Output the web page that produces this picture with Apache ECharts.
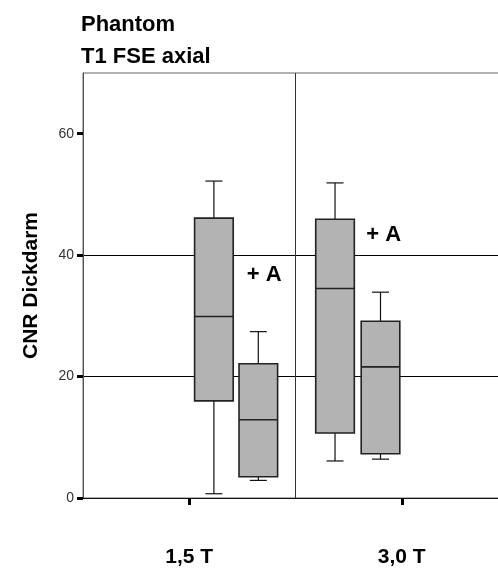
<!DOCTYPE html>
<html><head><meta charset="utf-8">
<script src="https://cdn.jsdelivr.net/npm/echarts@6/dist/echarts.min.js"></script>
<style>html,body{margin:0;padding:0;background:#fff}#c{width:498px;height:574px}</style>
</head><body><div id="c"></div>
<script>
// ---------- data ----------
const titleLines = ['Phantom', 'T1 FSE axial'];
const categories = ['1,5 T', '3,0 T'];
const yTickValues = [0, 20, 40, 60];
const yAxisName = 'CNR Dickdarm';
// box statistics: [lower whisker, Q1, median, Q3, upper whisker]
const box15T_first  = [0.7, 16.0, 29.9, 46.1, 52.2];
const box15T_second = [2.9, 3.5, 12.9, 22.1, 27.4];
const box30T_first  = [6.1, 10.7, 34.5, 45.9, 51.9];
const box30T_second = [6.4, 7.3, 21.6, 29.1, 33.9];
const annotationText = ['+ A', '+ A'];
const annotationValue = [36.7, 43.3];

// ---------- layout (not data) ----------
const FONT = '"Liberation Sans", Arial, sans-serif';
const boxOffsets = [[0.116, 0.325], [-0.314, -0.100]];   // relative to category centre, in category units
const annotationOffsets = [0.353, -0.085];
const BOX_HALF_PX = 19.3;
const CAP_HALF_PX = 8.5;

const groups = [[box15T_first, box15T_second], [box30T_first, box30T_second]];
const boxData = [];
groups.forEach((g, ci) => {
  g.forEach((stats, bi) => {
    boxData.push([ci + 0.5 + boxOffsets[ci][bi]].concat(stats));
  });
});
const annData = annotationText.map((t, i) => [i + 0.5 + annotationOffsets[i], annotationValue[i], t]);

function renderBox(params, api) {
  const x = api.value(0);
  const cx = api.coord([x, 0])[0];
  const yMin = api.coord([x, api.value(1)])[1];
  const yQ1 = api.coord([x, api.value(2)])[1];
  const yMed = api.coord([x, api.value(3)])[1];
  const yQ3 = api.coord([x, api.value(4)])[1];
  const yMax = api.coord([x, api.value(5)])[1];
  const wStyle = { stroke: '#111', lineWidth: 1.2 };
  const bStyle = { stroke: '#222', lineWidth: 1.6 };
  return {
    type: 'group',
    children: [
      { type: 'line', shape: { x1: cx, y1: yQ3, x2: cx, y2: yMax }, style: wStyle },
      { type: 'line', shape: { x1: cx - CAP_HALF_PX, y1: yMax, x2: cx + CAP_HALF_PX, y2: yMax }, style: wStyle },
      { type: 'line', shape: { x1: cx, y1: yQ1, x2: cx, y2: yMin }, style: wStyle },
      { type: 'line', shape: { x1: cx - CAP_HALF_PX, y1: yMin, x2: cx + CAP_HALF_PX, y2: yMin }, style: wStyle },
      { type: 'rect', shape: { x: cx - BOX_HALF_PX, y: yQ3, width: 2 * BOX_HALF_PX, height: yQ1 - yQ3 },
        style: { fill: '#b3b3b3', stroke: '#222', lineWidth: 1.6 } },
      { type: 'line', shape: { x1: cx - BOX_HALF_PX, y1: yMed, x2: cx + BOX_HALF_PX, y2: yMed }, style: bStyle }
    ]
  };
}

function renderAnn(params, api) {
  const p = api.coord([api.value(0), api.value(1)]);
  return {
    type: 'text',
    style: {
      x: p[0], y: p[1], text: annData[params.dataIndex][2],
      align: 'center', verticalAlign: 'middle',
      font: 'bold 22px ' + FONT, fill: '#000'
    }
  };
}

const chart = echarts.init(document.getElementById('c'), null, { renderer: 'canvas' });
chart.setOption({
  animation: false,
  backgroundColor: '#fff',
  title: {
    text: titleLines.join('\n'),
    left: 76, top: 4,
    textStyle: { fontFamily: FONT, fontWeight: 'bold', fontSize: 22, lineHeight: 32, color: '#000' }
  },
  grid: { left: 83, top: 73, width: 425, height: 425, outerBoundsMode: 'none', containLabel: false,
          show: true, borderColor: '#666', borderWidth: 1, backgroundColor: 'transparent' },
  xAxis: [
    {
      type: 'category', data: categories, boundaryGap: true,
      axisLine: { show: true, lineStyle: { color: '#111', width: 1 } },
      axisTick: { show: true, alignWithLabel: true, length: 7, lineStyle: { color: '#000', width: 3 } },
      axisLabel: { margin: 49, fontFamily: FONT, fontSize: 21, fontWeight: 'bold', color: '#000' },
      splitLine: { show: true, showMinLine: false, showMaxLine: false, lineStyle: { color: '#333', width: 1 } }
    },
    { type: 'value', min: 0, max: 2, show: false }
  ],
  yAxis: {
    type: 'value', min: 0, max: 70, interval: 20,
    name: yAxisName, nameLocation: 'middle', nameGap: 41, nameRotate: 90,
    nameTextStyle: { fontFamily: FONT, fontWeight: 'bold', fontSize: 21, color: '#000' },
    axisLine: { show: true, lineStyle: { color: '#555', width: 1 } },
    axisTick: { show: true, length: 6, customValues: yTickValues, lineStyle: { color: '#000', width: 3 } },
    axisLabel: { customValues: yTickValues, margin: 9, fontFamily: FONT, fontSize: 14, color: '#333' },
    splitLine: { show: true, showMaxLine: false, lineStyle: { color: '#000', width: 1 } }
  },
  series: [
    { type: 'custom', xAxisIndex: 1, yAxisIndex: 0, renderItem: renderBox, data: boxData, z: 5 },
    { type: 'custom', xAxisIndex: 1, yAxisIndex: 0, renderItem: renderAnn, data: annData, z: 6 }
  ]
});
</script></body></html>
